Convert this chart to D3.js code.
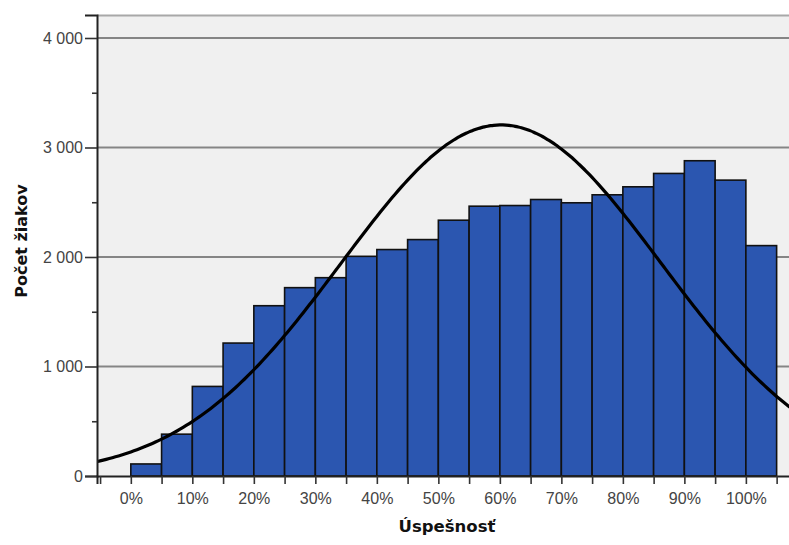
<!DOCTYPE html>
<html>
<head>
<meta charset="utf-8">
<script src="https://cdn.jsdelivr.net/npm/d3@7"></script>
<style>
  body { margin: 0; background: #fff; }
  svg { display: block; font-family: Arial, "Liberation Sans", sans-serif; }
</style>
</head>
<body>
<svg id="chart" width="789" height="545"></svg>
<script>
// --- data ---
// bin starts (%), each bin is 5 % wide
const binStarts = [0, 5, 10, 15, 20, 25, 30, 35, 40, 45, 50, 55, 60, 65, 70, 75, 80, 85, 90, 95, 100];
// number of pupils in each bin
const counts = [110, 382, 818, 1214, 1555, 1720, 1811, 2006, 2068, 2159, 2336, 2464, 2470, 2525, 2495, 2568, 2641, 2763, 2879, 2702, 2104];
const binWidth = 5;
// fitted normal curve parameters
const curveMean = 60.2;
const curveSd = 26;
// axis ticks
const xTickValues = [0, 10, 20, 30, 40, 50, 60, 70, 80, 90, 100];
const yTickValues = [0, 1000, 2000, 3000, 4000];

(function () {
    const svg = d3.select("#chart");

    const plotLeft = 97, plotRight = 800, plotTop = 15, plotBottom = 476;

    const x = d3.scaleLinear().domain([-5.5, 108.8]).range([plotLeft, plotRight]);
    const y = d3.scaleLinear().domain([0, 4210]).range([plotBottom, plotTop]);

    const locale = d3.formatLocale({ decimal: ",", thousands: " ", grouping: [3], currency: ["", ""] });
    const fmt = locale.format(",");

    // plot background
    svg.append("rect")
        .attr("x", plotLeft).attr("y", plotTop)
        .attr("width", plotRight - plotLeft).attr("height", plotBottom - plotTop)
        .attr("fill", "#f0f0f0");

    // top border
    svg.append("line")
        .attr("x1", plotLeft).attr("x2", plotRight).attr("y1", plotTop + 0.5).attr("y2", plotTop + 0.5)
        .attr("stroke", "#a8a8a8").attr("stroke-width", 2);

    // gridlines
    svg.append("g")
        .selectAll("line")
        .data(yTickValues.filter(d => d > 0))
        .join("line")
        .attr("x1", plotLeft).attr("x2", plotRight)
        .attr("y1", d => y(d)).attr("y2", d => y(d))
        .attr("stroke", "#858585").attr("stroke-width", 2);

    // bars
    svg.append("g")
        .selectAll("rect")
        .data(counts)
        .join("rect")
        .attr("x", (d, i) => x(binStarts[i]))
        .attr("y", d => y(d))
        .attr("width", (d, i) => x(binStarts[i] + binWidth) - x(binStarts[i]))
        .attr("height", d => y(0) - y(d))
        .attr("fill", "#2b56b0")
        .attr("stroke", "#111")
        .attr("stroke-width", 1.6);

    // normal curve
    const total = d3.sum(counts);
    const density = v => total * binWidth / (curveSd * Math.sqrt(2 * Math.PI)) *
        Math.exp(-((v - curveMean) ** 2) / (2 * curveSd * curveSd));
    const curvePts = d3.range(-5.5, 109, 0.5).map(v => [v, density(v)]);

    svg.append("defs").append("clipPath").attr("id", "clip")
        .append("rect").attr("x", plotLeft).attr("y", plotTop)
        .attr("width", plotRight - plotLeft).attr("height", plotBottom - plotTop);

    svg.append("path")
        .datum(curvePts)
        .attr("clip-path", "url(#clip)")
        .attr("fill", "none")
        .attr("stroke", "#000")
        .attr("stroke-width", 3.2)
        .attr("d", d3.line().x(d => x(d[0])).y(d => y(d[1])).curve(d3.curveBasis));

    // y axis
    svg.append("g").attr("transform", `translate(${plotLeft},0)`)
        .call(d3.axisLeft(y).tickValues(yTickValues).tickFormat(fmt).tickSize(12).tickPadding(2));
    svg.append("g").attr("transform", `translate(${plotLeft},0)`)
        .call(d3.axisLeft(y).tickValues([500, 1500, 2500, 3500]).tickFormat("").tickSize(5))
        .call(g => g.select(".domain").remove());

    // x axis
    svg.append("g").attr("transform", `translate(0,${plotBottom})`)
        .call(d3.axisBottom(x).tickValues(xTickValues).tickFormat(d => d + "%").tickSize(8).tickPadding(9));
    svg.append("g").attr("transform", `translate(0,${plotBottom})`)
        .call(d3.axisBottom(x).tickValues([-5, 5, 15, 25, 35, 45, 55, 65, 75, 85, 95, 105]).tickFormat("").tickSize(8))
        .call(g => g.select(".domain").remove());

    svg.selectAll(".domain").attr("stroke", "#222").attr("stroke-width", 2);
    svg.selectAll(".tick line").attr("stroke", "#333").attr("stroke-width", 1.6);
    svg.selectAll(".tick text").attr("fill", "#444")
        .style("font-family", "'Liberation Sans', Arial, sans-serif").style("font-size", "16px");

    // axis titles
    svg.append("text")
        .attr("x", 447).attr("y", 532)
        .attr("text-anchor", "middle")
        .style("font-family", "'DejaVu Sans', sans-serif")
        .style("font-size", "16.5px").style("font-weight", "bold")
        .attr("fill", "#111")
        .text("Úspešnosť");

    svg.append("text")
        .attr("transform", "translate(27,241) rotate(-90)")
        .attr("text-anchor", "middle")
        .style("font-family", "'DejaVu Sans', sans-serif")
        .style("font-size", "16px").style("font-weight", "bold")
        .attr("fill", "#111")
        .text("Počet žiakov");
})();
</script>
</body>
</html>
